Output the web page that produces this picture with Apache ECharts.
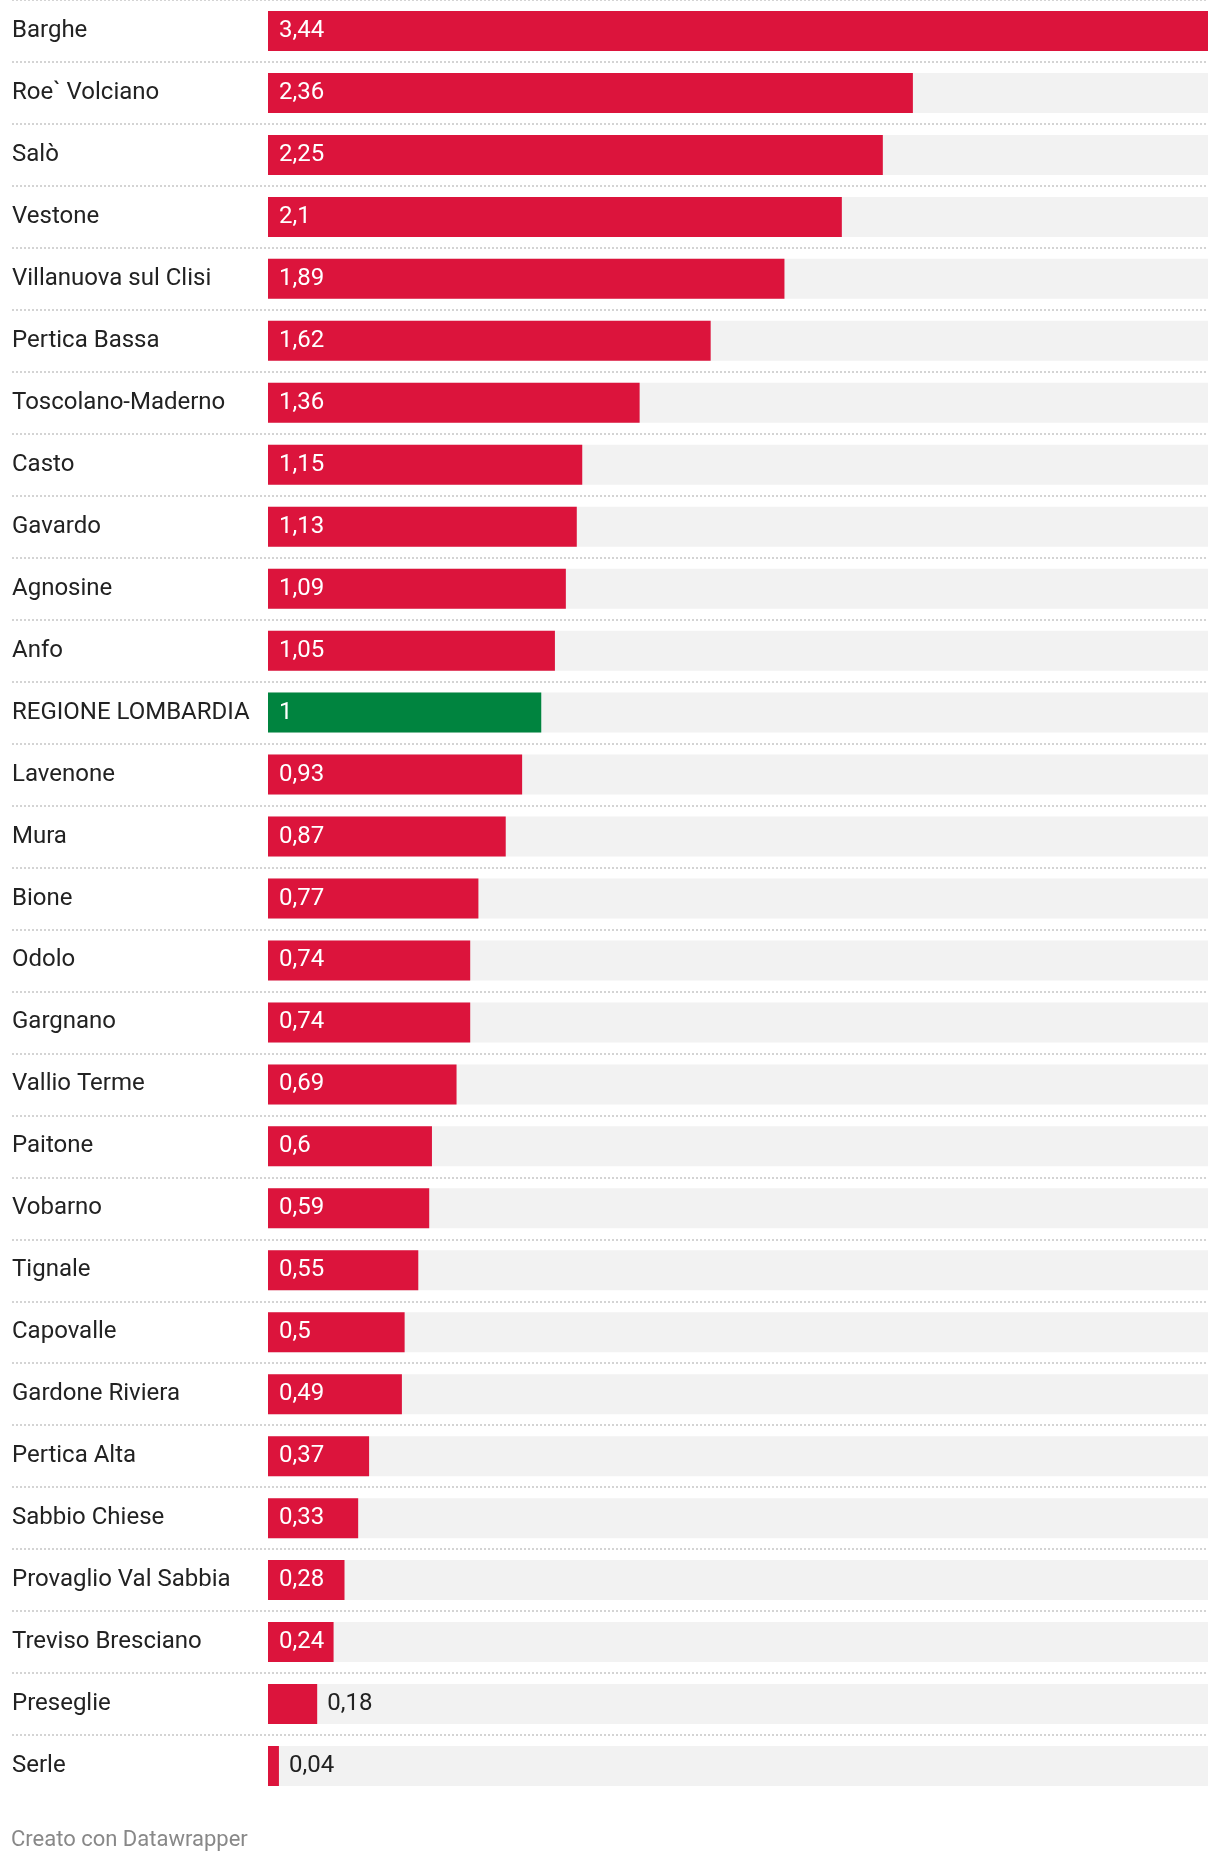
<!DOCTYPE html>
<html>
<head>
<meta charset="utf-8">
<script src="https://cdn.jsdelivr.net/npm/echarts@6/dist/echarts.min.js"></script>
<style>
html,body{margin:0;padding:0;background:#fff;}
#c{width:1220px;height:1862px;}
</style>
</head>
<body>
<div id="c"></div>
<script>
var categories = ["Barghe","Roe` Volciano","Salò","Vestone","Villanuova sul Clisi","Pertica Bassa","Toscolano-Maderno","Casto","Gavardo","Agnosine","Anfo","REGIONE LOMBARDIA","Lavenone","Mura","Bione","Odolo","Gargnano","Vallio Terme","Paitone","Vobarno","Tignale","Capovalle","Gardone Riviera","Pertica Alta","Sabbio Chiese","Provaglio Val Sabbia","Treviso Bresciano","Preseglie","Serle"];
var values = [3.44,2.36,2.25,2.1,1.89,1.62,1.36,1.15,1.13,1.09,1.05,1,0.93,0.87,0.77,0.74,0.74,0.69,0.6,0.59,0.55,0.5,0.49,0.37,0.33,0.28,0.24,0.18,0.04];
var highlight = "REGIONE LOMBARDIA";

var RED = '#dc143c', GREEN = '#00843f', TXT = '#222';
var FONT = 'Roboto';

var seriesData = values.map(function(v, i){
  var item = { value: v, itemStyle: { color: categories[i] === highlight ? GREEN : RED } };
  if (v < 0.2) {
    item.label = { position: 'right', color: TXT, distance: 10 };
  }
  return item;
});

var chart = echarts.init(document.getElementById('c'), null, {renderer:'canvas'});
chart.setOption({
  animation: false,
  textStyle: { fontFamily: FONT },
  title: {
    text: 'Creato con Datawrapper',
    left: 6, top: 1824,
    textStyle: { fontFamily: FONT, fontSize: 22, fontWeight: 'normal', color: '#888' }
  },
  grid: [
    { left: 268, right: 12, top: -1, height: 1798, containLabel: false },
    { left: 12, right: 12, top: -1, height: 1736, containLabel: false }
  ],
  xAxis: [
    { gridIndex: 0, type: 'value', min: 0, max: 3.44, show: false },
    { gridIndex: 1, type: 'value', min: 0, max: 1, show: false }
  ],
  yAxis: [
    {
      gridIndex: 0, type: 'category', inverse: true, data: categories,
      axisLine: { show: false }, axisTick: { show: false }, splitLine: { show: false },
      axisLabel: { align: 'left', margin: 256, fontSize: 24, color: TXT, fontFamily: FONT, padding: [5, 0, 0, 0] }
    },
    {
      gridIndex: 1, type: 'category', inverse: true, data: categories.slice(0, categories.length - 1),
      axisLine: { show: false }, axisTick: { show: false }, axisLabel: { show: false },
      splitLine: { show: true, lineStyle: { color: '#d4d4d4', width: 2, type: [2, 2] } }
    }
  ],
  series: [{
    type: 'bar',
    xAxisIndex: 0, yAxisIndex: 0,
    data: seriesData,
    barWidth: 40,
    showBackground: true,
    backgroundStyle: { color: '#f2f2f2' },
    label: {
      show: true, position: 'insideLeft', distance: 11,
      color: '#fff', fontSize: 24, fontFamily: FONT, padding: [5, 0, 0, 0],
      formatter: function(p){ return String(p.value).replace('.', ','); }
    }
  }]
});
</script>
</body>
</html>
